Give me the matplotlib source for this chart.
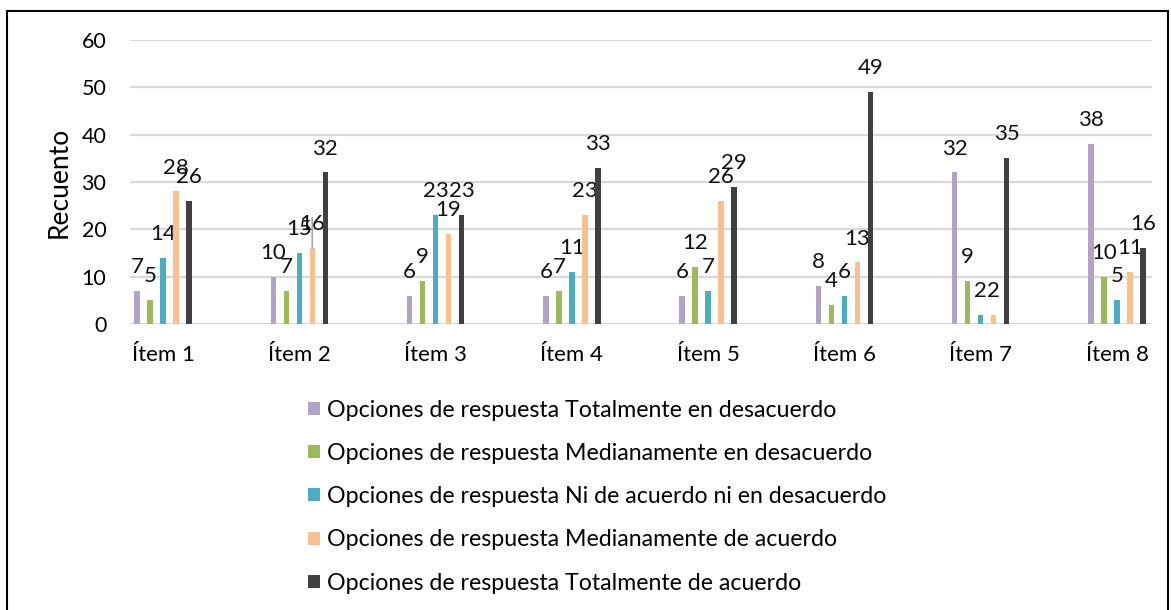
import matplotlib.pyplot as plt
from matplotlib.patches import Patch, Rectangle
import numpy as np

plt.rcParams['font.family'] = ['Lato', 'DejaVu Sans']

items = ["Ítem 1", "Ítem 2", "Ítem 3", "Ítem 4", "Ítem 5", "Ítem 6", "Ítem 7", "Ítem 8"]
series = [
    "Opciones de respuesta Totalmente en desacuerdo",
    "Opciones de respuesta Medianamente en desacuerdo",
    "Opciones de respuesta Ni de acuerdo ni en desacuerdo",
    "Opciones de respuesta Medianamente de acuerdo",
    "Opciones de respuesta Totalmente de acuerdo",
]
tot_desac = [7, 10, 6, 6, 6, 8, 32, 38]
med_desac = [5, 7, 9, 7, 12, 4, 9, 10]
ni_ni = [14, 15, 23, 11, 7, 6, 2, 5]
med_acuerdo = [28, 16, 19, 23, 26, 13, 2, 11]
tot_acuerdo = [26, 32, 23, 33, 29, 49, 35, 16]
values = [tot_desac, med_desac, ni_ni, med_acuerdo, tot_acuerdo]
colors = ["#b3a2c7", "#9bbb59", "#4bacc6", "#fac090", "#404040"]

fig = plt.figure(figsize=(11.71, 6.10), dpi=100)
ax = fig.add_axes([0.111, 0.4689, 0.8728, 0.4656])

x = np.arange(len(items))
step = 0.0954
width = 0.04
for i, (vals, col, name) in enumerate(zip(values, colors, series)):
    pos = x + (i - 2) * step
    ax.bar(pos, vals, width=width, color=col, label=name, zorder=3)
    for p, v in zip(pos, vals):
        ax.annotate(str(v), (p, v), xytext=(0, 10), textcoords="offset points",
                    ha="center", va="bottom", fontsize=16, color="#111111")

# leader line of the "16" label (Ítem 2)
ax.annotate("", (x[1] + step, med_acuerdo[1]), xytext=(0, 22), textcoords="offset points",
            arrowprops=dict(arrowstyle="-", color="#a6a6a6", lw=1.2, shrinkA=0, shrinkB=0))

ax.set_xlim(-0.242, 7.257)
ax.set_ylim(0, 60)
ax.set_yticks(range(0, 61, 10))
ax.set_xticks(x)
ax.set_xticklabels(items, fontsize=16)
ax.tick_params(axis="y", labelsize=15.5, length=0, pad=17)
ax.tick_params(axis="x", length=0, pad=15)
ax.grid(axis="y", color="#d9d9d9", linewidth=1.6, zorder=0)
ax.set_axisbelow(True)
for s in ["top", "right", "left", "bottom"]:
    ax.spines[s].set_visible(False)
ax.set_ylabel("Recuento", fontsize=19)
ax.yaxis.set_label_coords(-0.057, 0.5)

handles = [Patch(facecolor=c, edgecolor="none") for c in colors]
fig.legend(handles, series, loc="upper left", bbox_to_anchor=(0.263, 0.345),
           frameon=False, fontsize=16.7, handlelength=0.5, handleheight=0.5,
           handletextpad=0.3, labelspacing=0.96, borderpad=0, borderaxespad=0)

fig.patches.append(Rectangle((7 / 1171, -0.1), (1168 - 7) / 1171, 1.1 - 11 / 610,
                             transform=fig.transFigure, fill=False,
                             edgecolor="black", linewidth=1.5))

fig.savefig("out.png", dpi=100)
